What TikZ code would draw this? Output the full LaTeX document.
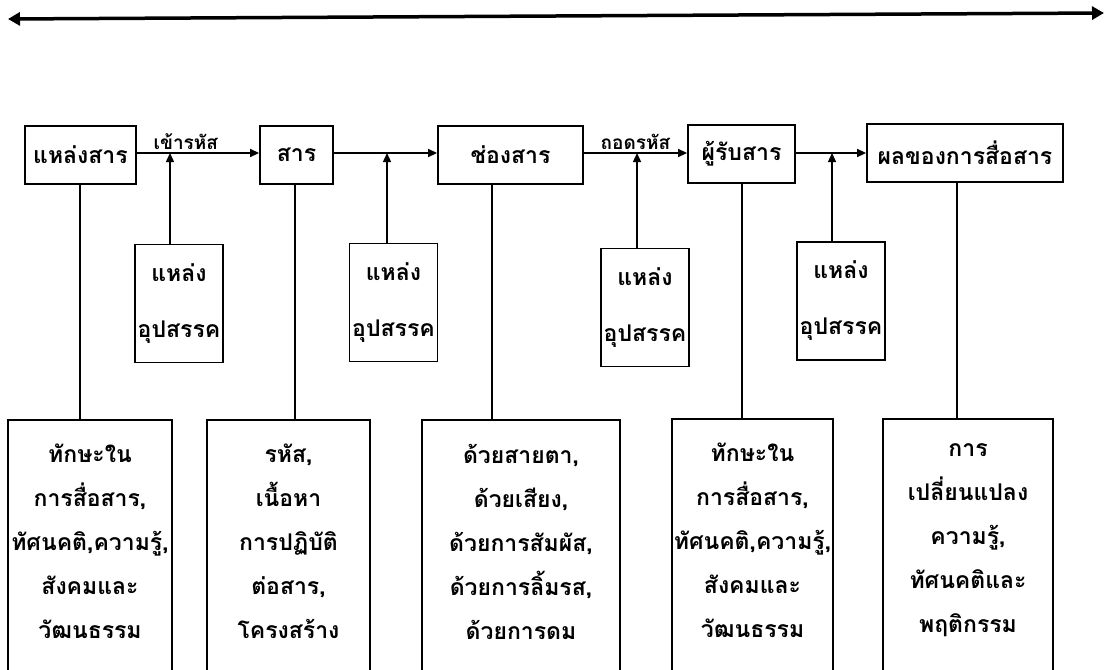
\documentclass[tikz,border=0pt]{standalone}
\usepackage{fontspec}
\newfontfamily\thaifont[Script=Thai]{Loma}
\usetikzlibrary{arrows.meta}
\begin{document}
\begin{tikzpicture}[x=1pt,y=-1pt,
  txt/.style={font=\thaifont\bfseries\fontsize{23}{44}\selectfont, align=center},
  topbox/.style={draw, line width=1.8pt, inner sep=0pt, minimum height=58pt, txt},
  obox/.style={draw, line width=1.8pt, inner sep=0pt, minimum width=88pt, minimum height=118pt, txt},
  bbox/.style={draw, line width=1.8pt, inner sep=0pt, minimum height=300pt, anchor=north},
  conn/.style={line width=1.4pt, -{Triangle[length=9pt,width=8pt]}},
  link/.style={line width=1.4pt},
  lbl/.style={font=\thaifont\bfseries\fontsize{19}{22}\selectfont, inner sep=3pt, above}
]
\useasboundingbox (0,0) rectangle (1110,669);
\clip (0,0) rectangle (1110,669);

% timeline arrow
\coordinate (tl) at (8,19);
\coordinate (tr) at (1104,13);
\draw[line width=3.5pt, {Triangle[length=12pt,width=13pt]}-{Triangle[length=12pt,width=13pt]}] (tl) -- (tr);

% top row
\node[topbox, minimum width=111pt] (src)  at (80.5,155) {แหล่งสาร};
\node[topbox, minimum width=73pt]  (msg)  at (296.5,155) {สาร};
\node[topbox, minimum width=145pt] (chan) at (510.5,155) {ช่องสาร};
\node[topbox, minimum width=107pt] (recv) at (741.5,154) {ผู้รับสาร};
\node[topbox, minimum width=196pt] (eff)  at (965,153) {ผลของการสื่อสาร};

\draw[conn] (src.east |- 0,153) -- node[lbl, pos=0.4] {เข้ารหัส} (msg.west |- 0,153);
\draw[conn] (msg.east |- 0,153) -- (chan.west |- 0,153);
\draw[conn] (chan.east |- 0,153) -- node[lbl, pos=0.5] {ถอดรหัส} (recv.west |- 0,153);
\draw[conn] (recv.east |- 0,153) -- (eff.west |- 0,153);

% obstacle boxes
\node[obox] (o1) at (179,303.5) {แหล่ง\\[12pt]อุปสรรค};
\node[obox] (o2) at (393.5,302.5) {แหล่ง\\[12pt]อุปสรรค};
\node[obox] (o3) at (645,307.5) {แหล่ง\\[12pt]อุปสรรค};
\node[obox] (o4) at (841,301) {แหล่ง\\[12pt]อุปสรรค};

\coordinate (j1) at (170,153);
\coordinate (j2) at (387,153);
\coordinate (j3) at (637,153);
\coordinate (j4) at (832,153);
\draw[conn] (o1.north -| j1) -- (j1);
\draw[conn] (o2.north -| j2) -- (j2);
\draw[conn] (o3.north -| j3) -- (j3);
\draw[conn] (o4.north -| j4) -- (j4);

% bottom boxes
\node[bbox, minimum width=164pt] (b1) at (90,419) {};
\node[bbox, minimum width=163pt] (b2) at (288.5,419) {};
\node[bbox, minimum width=198pt] (b3) at (521,419) {};
\node[bbox, minimum width=161pt] (b4) at (752.5,418) {};
\node[bbox, minimum width=170pt] (b5) at (968,418) {};

\node[txt, anchor=north, inner sep=0pt] (t1) at ([yshift=-25pt]b1.north) {ทักษะใน\\การสื่อสาร,\\ทัศนคติ,ความรู้,\\สังคมและ\\วัฒนธรรม};
\node[txt, anchor=north, inner sep=0pt] (t2) at ([yshift=-25pt]b2.north) {รหัส,\\เนื้อหา\\การปฏิบัติ\\ต่อสาร,\\โครงสร้าง};
\node[txt, anchor=north, inner sep=0pt] (t3) at ([yshift=-25pt]b3.north) {ด้วยสายตา,\\ด้วยเสียง,\\ด้วยการสัมผัส,\\ด้วยการลิ้มรส,\\ด้วยการดม};
\node[txt, anchor=north, inner sep=0pt] (t4) at ([yshift=-25pt]b4.north) {ทักษะใน\\การสื่อสาร,\\ทัศนคติ,ความรู้,\\สังคมและ\\วัฒนธรรม};
\node[txt, anchor=north, inner sep=0pt] (t5) at ([yshift=-25pt]b5.north) {การ\\เปลี่ยนแปลง\\ความรู้,\\ทัศนคติและ\\พฤติกรรม};

\coordinate (v1) at (80,0);
\coordinate (v2) at (295,0);
\coordinate (v3) at (492,0);
\coordinate (v4) at (742,0);
\coordinate (v5) at (957,0);
\draw[link] (src.south -| v1) -- (b1.north -| v1);
\draw[link] (msg.south -| v2) -- (b2.north -| v2);
\draw[link] (chan.south -| v3) -- (b3.north -| v3);
\draw[link] (recv.south -| v4) -- (b4.north -| v4);
\draw[link] (eff.south -| v5) -- (b5.north -| v5);
\end{tikzpicture}
\end{document}
